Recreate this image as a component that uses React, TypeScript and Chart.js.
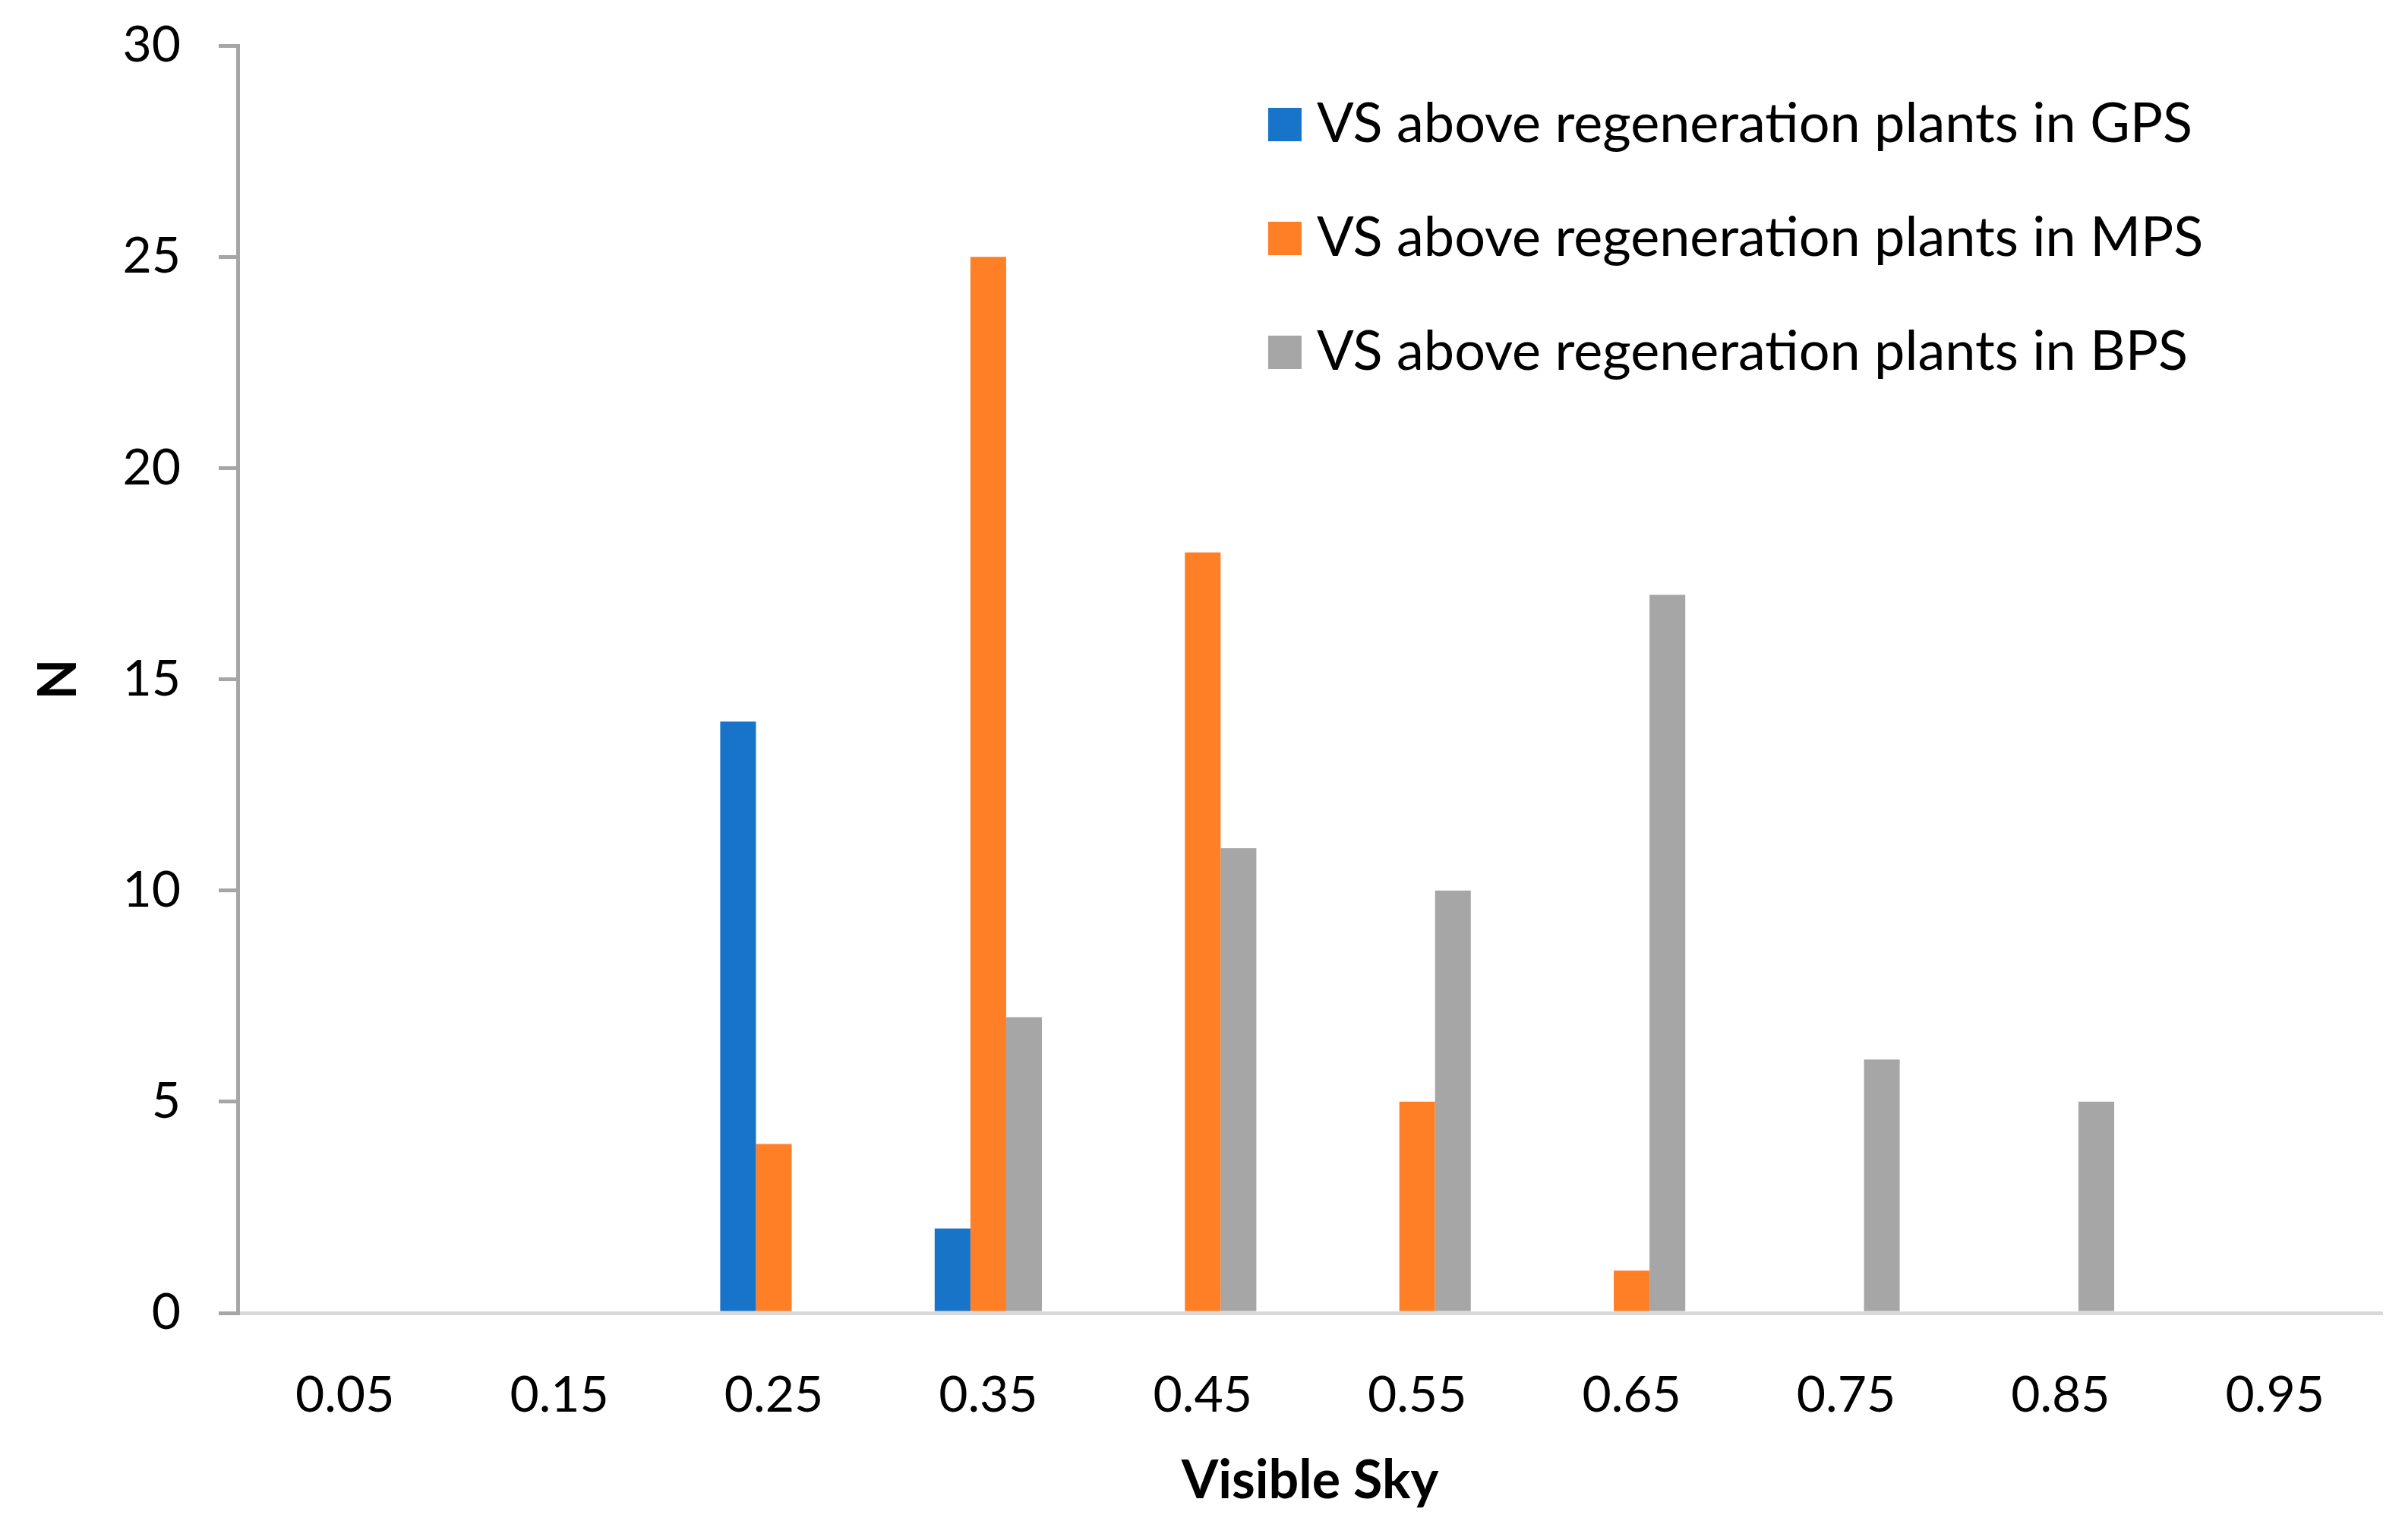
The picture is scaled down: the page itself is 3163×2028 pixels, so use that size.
import React, { useEffect, useRef } from "react";
import { Chart, registerables } from "chart.js";

Chart.register(...registerables);

const categories = ["0.05", "0.15", "0.25", "0.35", "0.45", "0.55", "0.65", "0.75", "0.85", "0.95"];
const gpsValues = [0, 0, 14, 2, 0, 0, 0, 0, 0, 0];
const mpsValues = [0, 0, 4, 25, 18, 5, 1, 0, 0, 0];
const bpsValues = [0, 0, 0, 7, 11, 10, 17, 6, 5, 0];
const seriesLabels = [
  "VS above regeneration plants in GPS",
  "VS above regeneration plants in MPS",
  "VS above regeneration plants in BPS",
];
const seriesColors = ["#1874C9", "#FF7F27", "#A6A6A6"];
const yTicks = [0, 5, 10, 15, 20, 25, 30];

const W = 3163;
const H = 2028;
const FONT = "Lato, 'Open Sans', sans-serif";

const insideLegend = {
  id: "insideLegend",
  afterDraw(chart: any) {
    const { ctx, chartArea } = chart;
    const w = chartArea.right - chartArea.left;
    const boxX = chartArea.left + 0.4805 * w;
    const box = 44;
    const firstY = chartArea.top + 104;
    const step = 150;
    ctx.save();
    ctx.font = `72px ${FONT}`;
    ctx.textBaseline = "middle";
    ctx.textAlign = "left";
    chart.data.datasets.forEach((ds: any, i: number) => {
      const cy = firstY + i * step;
      ctx.fillStyle = ds.backgroundColor;
      ctx.fillRect(boxX, cy - box / 2, box, box);
      ctx.fillStyle = "#000";
      ctx.fillText(ds.label, boxX + box + 20, cy);
    });
    ctx.restore();
  },
};

export default function App() {
  const ref = useRef<HTMLCanvasElement | null>(null);

  useEffect(() => {
    document.body.style.margin = "0";
    document.body.style.overflow = "hidden";
    const canvas = ref.current;
    if (!canvas) return;
    const chart = new Chart(canvas, {
      type: "bar",
      data: {
        labels: categories,
        datasets: [gpsValues, mpsValues, bpsValues].map((vals, i) => ({
          label: seriesLabels[i],
          data: vals,
          backgroundColor: seriesColors[i],
          borderWidth: 0,
          categoryPercentage: 0.5,
          barPercentage: 1.0,
        })),
      },
      options: {
        responsive: false,
        animation: false,
        devicePixelRatio: 1,
        layout: { padding: { top: 60, right: 26, bottom: 0, left: 0 } },
        plugins: {
          legend: { display: false },
          tooltip: { enabled: false },
        },
        scales: {
          x: {
            grid: { display: false },
            border: { display: true, color: "#D9D9D9", width: 5 },
            ticks: {
              color: "#000",
              font: { family: FONT, size: 66 },
              padding: 61,
              maxRotation: 0,
              autoSkip: false,
            },
            title: {
              display: true,
              text: "Visible Sky",
              color: "#000",
              font: { family: FONT, size: 70, weight: "bold" },
              padding: { top: 0, bottom: 36 },
            },
            afterFit: (scale: any) => {
              scale.height = 299;
            },
          },
          y: {
            min: 0,
            max: 30,
            afterBuildTicks: (scale: any) => {
              scale.ticks = yTicks.map((v) => ({ value: v }));
            },
            grid: {
              display: true,
              drawOnChartArea: false,
              drawTicks: true,
              tickLength: 25,
              color: "#A6A6A6",
              lineWidth: 5,
            },
            border: { display: true, color: "#A6A6A6", width: 5 },
            ticks: {
              color: "#000",
              font: { family: FONT, size: 66 },
              padding: 50,
            },
            title: {
              display: true,
              text: "N",
              color: "#000",
              font: { family: FONT, size: 70, weight: "bold" },
              padding: { top: 35, bottom: 0 },
            },
            afterFit: (scale: any) => {
              scale.width = 313;
              scale.paddingTop = 0;
              scale.paddingBottom = 0;
            },
          },
        },
      },
      plugins: [insideLegend],
    });
    return () => chart.destroy();
  }, []);

  return (
    <div style={{ width: W, height: H, background: "#fff" }}>
      <canvas ref={ref} width={W} height={H} style={{ display: "block" }} />
    </div>
  );
}
